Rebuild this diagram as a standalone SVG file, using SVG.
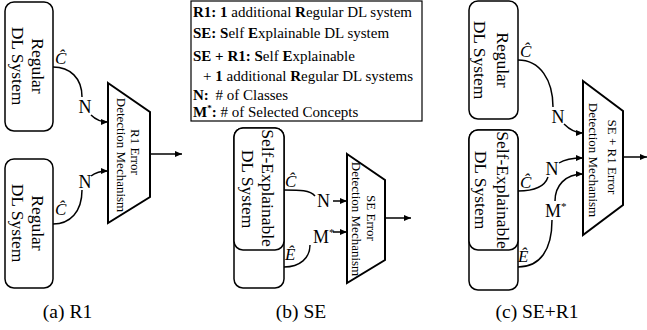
<svg xmlns="http://www.w3.org/2000/svg" width="647" height="330" viewBox="0 0 647 330">
<defs>
<marker id="ah" markerWidth="8" markerHeight="6" refX="7" refY="3" orient="auto" markerUnits="userSpaceOnUse">
<path d="M0,0 L7,3 L0,6 z" fill="#000"/>
</marker>
<style>
.box{fill:#fff;stroke:#000;stroke-width:1.5}
.trap{fill:#fff;stroke:#000;stroke-width:2}
.con{fill:none;stroke:#000;stroke-width:1.5}
.arr{fill:none;stroke:#000;stroke-width:1.5;marker-end:url(#ah)}
text{font-family:"Liberation Serif","Times New Roman",serif;fill:#000}
.bl{font-size:17.5px}
.tl{font-size:13px}
.lab{font-size:18px}
.it{font-size:17px;font-style:italic}
.leg{font-size:15px}
.cap{font-size:19.5px}
.b{font-weight:bold}
</style>
</defs>

<rect width="647" height="330" fill="#fff"/>

<!-- Legend -->
<g id="legend">
<rect x="191" y="1" width="231" height="120" fill="#fff" stroke="#000" stroke-width="1.2"/>
<text class="leg" x="193" y="17"><tspan class="b">R1: 1</tspan> additional <tspan class="b">R</tspan>egular DL system</text>
<text class="leg" x="193" y="38"><tspan class="b">SE: S</tspan>elf <tspan class="b">E</tspan>xplainable DL system</text>
<text class="leg" x="193" y="61"><tspan class="b">SE + R1: S</tspan>elf <tspan class="b">E</tspan>xplainable</text>
<text class="leg" x="203" y="81">+ <tspan class="b">1</tspan> additional <tspan class="b">R</tspan>egular DL systems</text>
<text class="leg" x="193" y="100"><tspan class="b">N:</tspan> <tspan dx="3"># of Classes</tspan></text>
<text class="leg" x="193" y="117"><tspan class="b">M</tspan><tspan class="b" font-size="9" dy="-6">*</tspan><tspan class="b" dy="6">:</tspan> # of Selected Concepts</text>
</g>

<!-- Panel (a) -->
<g id="a_reg1">
<rect class="box" x="5" y="2" width="48" height="129" rx="9"/>
<text class="bl" text-anchor="middle" transform="translate(32,66) rotate(90)">Regular</text>
<text class="bl" text-anchor="middle" transform="translate(12,66) rotate(90)">DL System</text>
</g>
<g id="a_reg2">
<rect class="box" x="5" y="159" width="48" height="129" rx="9"/>
<text class="bl" text-anchor="middle" transform="translate(32,223) rotate(90)">Regular</text>
<text class="bl" text-anchor="middle" transform="translate(12,223) rotate(90)">DL System</text>
</g>
<g id="a_det">
<path class="trap" d="M108,83 L150,112 L150,197 L108,223 Z"/>
<text class="tl" text-anchor="middle" transform="translate(131,152) rotate(90)">R1 Error</text>
<text class="tl" text-anchor="middle" transform="translate(117,155) rotate(90)">Detection Mechanism</text>
</g>

<!-- Panel (b) -->
<g id="b_se">
<rect class="box" x="234" y="128" width="50" height="160" rx="9"/>
<rect class="box" x="234" y="128" width="50" height="122" rx="9"/>
<text class="bl" text-anchor="middle" transform="translate(262,188) rotate(90)">Self-Explainable</text>
<text class="bl" text-anchor="middle" transform="translate(242,189) rotate(90)">DL System</text>
</g>
<g id="b_det">
<path class="trap" d="M347,154 L385,180 L385,260 L347,283 Z"/>
<text class="tl" text-anchor="middle" transform="translate(367,218) rotate(90)">SE Error</text>
<text class="tl" text-anchor="middle" transform="translate(352,219) rotate(90)">Detection Mechanism</text>
</g>

<!-- Panel (c) -->
<g id="c_reg">
<rect class="box" x="469" y="1" width="49" height="118" rx="9"/>
<text class="bl" text-anchor="middle" transform="translate(497,60) rotate(90)">Regular</text>
<text class="bl" text-anchor="middle" transform="translate(474,60) rotate(90)">DL System</text>
</g>
<g id="c_se">
<rect class="box" x="469" y="130" width="49" height="160" rx="9"/>
<rect class="box" x="469" y="130" width="49" height="120" rx="9"/>
<text class="bl" text-anchor="middle" transform="translate(497,190) rotate(90)">Self-Explainable</text>
<text class="bl" text-anchor="middle" transform="translate(475,190) rotate(90)">DL System</text>
</g>
<g id="c_det">
<path class="trap" d="M583,81 L623,111 L623,205 L583,235 Z"/>
<text class="tl" text-anchor="middle" transform="translate(608,157) rotate(90)">SE + R1 Error</text>
<text class="tl" text-anchor="middle" transform="translate(589,160) rotate(90)">Detection Mechanism</text>
</g>

<!-- Connectors -->
<g id="connectors">
<!-- (a) -->
<path class="con" d="M53,67 C70,67 82,78 82,97"/>
<path class="arr" d="M91,115 C96,120 101,122 108,122"/>
<path class="con" d="M53,224 C70,224 82,212 82,190"/>
<path class="arr" d="M91,176 C96,172 101,171 108,171"/>
<path class="arr" d="M150,154 L182,154"/>
<!-- (b) -->
<path class="con" d="M284,190 C300,190 310,190 315,196"/>
<path class="arr" d="M333,201 L347,201"/>
<path class="con" d="M284,267 C300,267 310,258 310,245"/>
<path class="arr" d="M333,232 L347,232"/>
<path class="arr" d="M385,218 L411,218"/>
<!-- (c) -->
<path class="con" d="M518,60 C540,60 553,80 553,107"/>
<path class="arr" d="M564,124 C570,130 575,133 583,133"/>
<path class="con" d="M518,191 C535,191 545,186 548,177"/>
<path class="arr" d="M559,163 C565,159 572,158 583,158"/>
<path class="arr" d="M555,201 C555,186 565,174 583,174"/>
<path class="con" d="M518,267 C540,267 552,250 552,220"/>
<path class="arr" d="M623,157 L647,157"/>
</g>

<!-- Edge labels -->
<g id="labels">
<text class="it" x="55" y="64">Ĉ</text>
<text class="lab" text-anchor="middle" x="85" y="113">N</text>
<text class="it" x="55" y="215">Ĉ</text>
<text class="lab" text-anchor="middle" x="85" y="188">N</text>

<text class="it" x="285" y="187">Ĉ</text>
<text class="lab" text-anchor="middle" x="323.5" y="207">N</text>
<text class="it" x="285" y="260">Ê</text>
<text class="lab" x="313" y="243">M<tspan font-size="11" dy="-7">*</tspan></text>

<text class="it" x="520" y="57">Ĉ</text>
<text class="lab" text-anchor="middle" x="558" y="123">N</text>
<text class="it" x="520" y="188">Ĉ</text>
<text class="lab" text-anchor="middle" x="552" y="175">N</text>
<text class="lab" x="545" y="217">M<tspan font-size="11" dy="-7">*</tspan></text>
<text class="it" x="518" y="262">Ê</text>
</g>

<!-- Captions -->
<g id="captions">
<text class="cap" text-anchor="middle" x="67.5" y="318">(a) R1</text>
<text class="cap" text-anchor="middle" x="301" y="318">(b) SE</text>
<text class="cap" text-anchor="middle" x="537" y="318">(c) SE+R1</text>
</g>
</svg>
